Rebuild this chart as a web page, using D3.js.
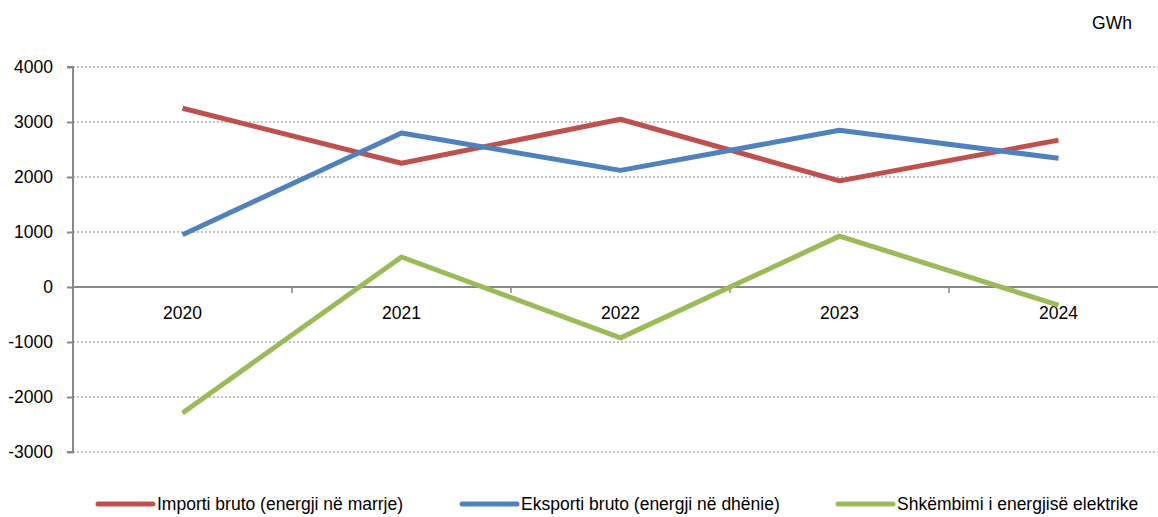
<!DOCTYPE html>
<html><head><meta charset="utf-8">
<script src="https://cdn.jsdelivr.net/npm/d3@7"></script>
<style>body{margin:0;background:#fff}svg{display:block}text{font-family:"Liberation Sans",Arial,sans-serif;fill:#000}</style>
</head><body>
<svg id="c" width="1158" height="517"></svg>
<script>
const years = ["2020","2021","2022","2023","2024"];
const importi = [3250, 2250, 3050, 1930, 2670];
const eksporti = [950, 2800, 2120, 2850, 2340];
const shkembimi = [-2290, 545, -925, 925, -330];
const yTicks = [4000,3000,2000,1000,0,-1000,-2000,-3000];
const seriesNames = ["Importi bruto (energji në marrje)","Eksporti bruto (energji në dhënie)","Shkëmbimi i energjisë elektrike"];
const colors = ["#C0504D","#4F81BD","#9BBB59"];
const series = [importi, eksporti, shkembimi];

(function(){
const FS = 17.5;
const svg = d3.select("#c");
const pL = 73, pR = 1168, pT = 67, pB = 452;
const x = d3.scaleBand().domain(years).range([pL, pR]);
const y = d3.scaleLinear().domain([-3000, 4000]).range([pB, pT]);

svg.append("g").selectAll("line").data(yTicks.filter(d=>d!==0)).join("line")
  .attr("x1", pL).attr("x2", pR).attr("y1", d=>y(d)).attr("y2", d=>y(d))
  .attr("stroke", "#888").attr("stroke-width", 1.2).attr("stroke-dasharray", "2,2");

const ya = svg.append("g").attr("transform", `translate(${pL},0)`)
  .call(d3.axisLeft(y).tickValues(yTicks).tickSize(6).tickPadding(14).tickFormat(d=>String(d)));
ya.select(".domain").attr("stroke", "#888").attr("stroke-width", 2).attr("d", `M-6,${pT}H0V${pB}H-6`);
ya.selectAll(".tick line").attr("stroke", "#888").attr("stroke-width", 2);
ya.selectAll("text").attr("font-size", FS).attr("font-family", '"Liberation Sans",Arial,sans-serif').attr("fill","#000");

svg.append("line").attr("x1", pL).attr("x2", pR).attr("y1", y(0)).attr("y2", y(0))
  .attr("stroke", "#888").attr("stroke-width", 2);
svg.append("g").selectAll("line").data(years.slice(1)).join("line")
  .attr("x1", d=>x(d)).attr("x2", d=>x(d)).attr("y1", y(0)).attr("y2", y(0)+6)
  .attr("stroke", "#888").attr("stroke-width", 1.5);
svg.append("g").selectAll("text").data(years).join("text")
  .attr("x", d=>x(d)+x.bandwidth()/2).attr("y", y(0)+32)
  .attr("text-anchor", "middle").attr("font-size", FS).text(d=>d);

const line = d3.line().x((d,i)=>x(years[i])+x.bandwidth()/2).y(d=>y(d));
series.forEach((s,k)=>{
  svg.append("path").datum(s).attr("d", line).attr("fill","none")
    .attr("stroke", colors[k]).attr("stroke-width", 5).attr("stroke-linejoin","round");
});

svg.append("text").attr("x", 1112).attr("y", 29).attr("text-anchor","middle").attr("font-size", FS).text("GWh");

const legX = [98, 462, 838];
const legW = [55, 55, 55];
seriesNames.forEach((n,k)=>{
  svg.append("line").attr("x1", legX[k]).attr("x2", legX[k]+legW[k]).attr("y1", 504).attr("y2", 504)
    .attr("stroke", colors[k]).attr("stroke-width", 5).attr("stroke-linecap","round");
  svg.append("text").attr("x", legX[k]+legW[k]+4).attr("y", 510).attr("font-size", FS).text(n);
});
})();
</script>
</body></html>
